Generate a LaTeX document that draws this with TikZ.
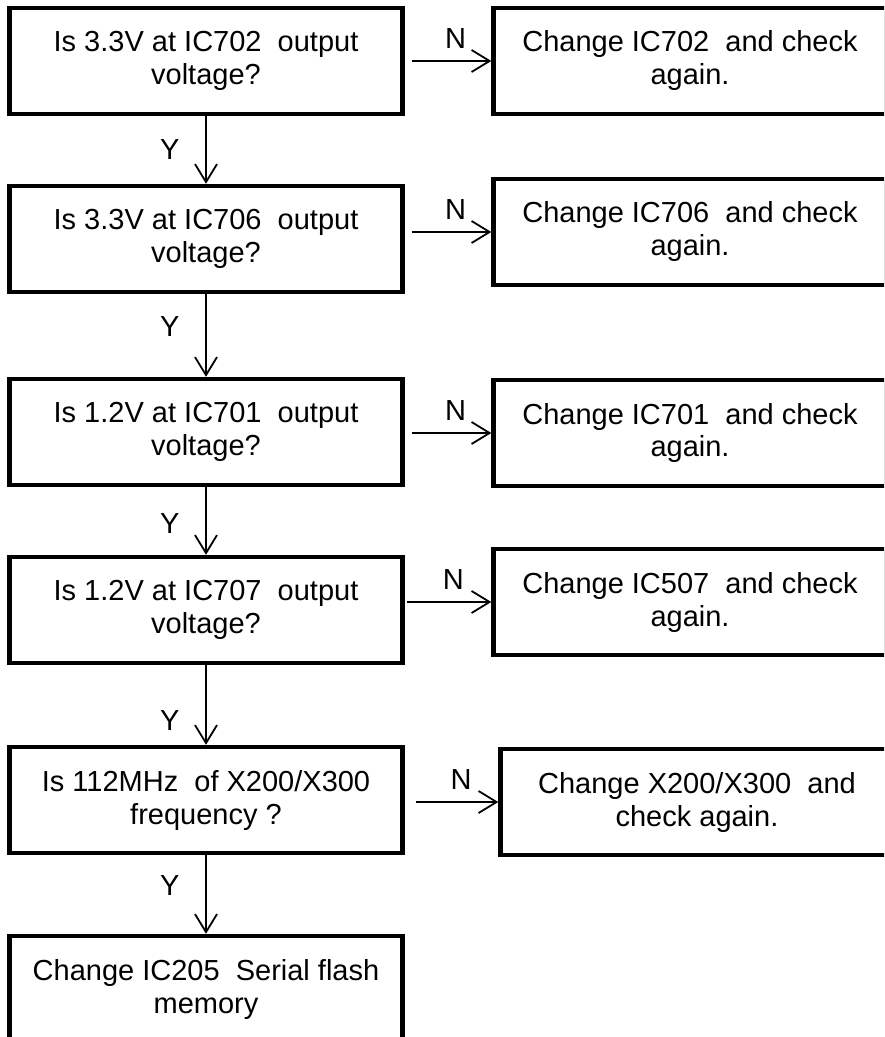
\documentclass[tikz,border=0pt]{standalone}
\usepackage{fontspec}
\setmainfont{Liberation Sans}
\usetikzlibrary{arrows.meta,calc}

\begin{document}
\begin{tikzpicture}[x=0.5pt,y=-0.5pt,
		box/.style={draw,line width=2.2pt,minimum width=196.5pt,minimum height=53pt,
			inner sep=0pt,align=center,font=\fontsize{14.5}{16.5}\selectfont},
		arr/.style={line width=0.9pt,-{Straight Barb[length=9pt,width=11pt,line width=0.9pt]}},
		lbl/.style={font=\fontsize{14.5}{16.5}\selectfont}]
	
	\clip (0,0) rectangle (884,1037); % page frame
	
	% checks
	\node[box] (q1) at (206,61) {Is 3.3V at IC702\ \ output\\voltage?};
	\node[box] (q2) at (206,239) {Is 3.3V at IC706\ \ output\\voltage?};
	\node[box] (q3) at (206,432) {Is 1.2V at IC701\ \ output\\voltage?};
	\node[box] (q4) at (206,610) {Is 1.2V at IC707\ \ output\\voltage?};
	\node[box] (q5) at (206,800) {Is 112MHz\ \ of X200/X300\\frequency ?};
	\node[box] (q6) at (206,989) {Change IC205\ \ Serial flash\\memory};
	
	% repairs
	\node[box] (c1) at (690,61) {Change IC702\ \ and check\\again.};
	\node[box] (c2) at (690,232) {Change IC706\ \ and check\\again.};
	\node[box] (c3) at (690,433) {Change IC701\ \ and check\\again.};
	\node[box] (c4) at (690,602) {Change IC507\ \ and check\\again.};
	\node[box] (c5) at (697,802) {Change X200/X300\ \ and\\check again.};
	
	% yes branch
	\foreach \a/\b/\p in {q1/q2/0.5,q2/q3/0.39,q3/q4/0.53,q4/q5/0.69,q5/q6/0.39}
	\draw[arr] (\a) -- node[lbl,left=9.5pt,pos=\p] {Y} (\b);
	
	% no branch
	\foreach \a/\b/\g in {q1/c1/7,q2/c2/7,q3/c3/7,q4/c4/2,q5/c5/11}
	\draw[arr] ($(\a.east |- \b.west)+(\g,0)$) -- node[lbl,above=2.5pt,pos=0.55] {N} (\b.west);
	
\end{tikzpicture}
\end{document}
